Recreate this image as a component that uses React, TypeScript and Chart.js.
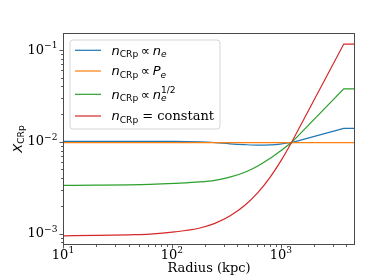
import React, { useEffect, useRef } from "react";
import { Chart, registerables } from "chart.js";

Chart.register(...registerables);

// ---- data ----
const radiusKpc = [10, 20, 40, 63, 106, 181, 248, 340, 468, 615, 793, 1021, 1254, 3785, 4800];
const xcrpNe = [0.0101, 0.0101, 0.0101, 0.0101, 0.0101, 0.01, 0.0098, 0.0095, 0.0093, 0.0092, 0.00925, 0.0095, 0.0098, 0.01396, 0.01396];
const xcrpPe = [0.0098, 0.0098, 0.0098, 0.0098, 0.0098, 0.0098, 0.0098, 0.0098, 0.0098, 0.0098, 0.0098, 0.0098, 0.0098, 0.0098, 0.0098];
const xcrpSqrtNe = [0.00334, 0.00336, 0.00339, 0.00343, 0.00352, 0.00365, 0.0038, 0.00411, 0.00466, 0.00545, 0.00656, 0.00814, 0.0098, 0.0376, 0.0376];
const xcrpConst = [0.000944, 0.000954, 0.000968, 0.000983, 0.00104, 0.00115, 0.00129, 0.00155, 0.00203, 0.00279, 0.00407, 0.00643, 0.0098, 0.116, 0.116];
// radius where all profiles cross; beyond it the profiles are straight power laws then flat
const crossingRadius = 1254;

const seriesValues = [xcrpNe, xcrpPe, xcrpSqrtNe, xcrpConst];
const seriesColors = ["#1f77b4", "#ff7f0e", "#2ca02c", "#d62728"];
const seriesLabels = ["n_CRp ∝ n_e", "n_CRp ∝ P_e", "n_CRp ∝ n_e^1/2", "n_CRp = constant"];

const xRange = [10, 4800];
const yRange = [7.5e-4, 0.153];
const xTickExponents = [1, 2, 3];
const yTickExponents = [-3, -2, -1];
const xAxisTitle = "Radius (kpc)";

// legend labels as math runs
type Run = { t: string; k: string; sup?: string };
const legendRuns: Run[][] = [
  [{ t: "n", k: "it" }, { t: "CRp", k: "sub" }, { t: "\u2009∝\u2009", k: "op" }, { t: "n", k: "it" }, { t: "e", k: "subit" }],
  [{ t: "n", k: "it" }, { t: "CRp", k: "sub" }, { t: "\u2009∝\u2009", k: "op" }, { t: "P", k: "it" }, { t: "e", k: "subit" }],
  [{ t: "n", k: "it" }, { t: "CRp", k: "sub" }, { t: "\u2009∝\u2009", k: "op" }, { t: "n", k: "it" }, { t: "e", k: "subit", sup: "1/2" }],
  [{ t: "n", k: "it" }, { t: "CRp", k: "sub" }, { t: " = constant", k: "rm" }],
];

const runStyles: Record<string, { font: string; dy: number }> = {
  it: { font: "italic 13px 'DejaVu Sans'", dy: 0 },
  sub: { font: "9.1px 'DejaVu Sans'", dy: 2.6 },
  subit: { font: "italic 9.1px 'DejaVu Sans'", dy: 2.6 },
  sup: { font: "9.1px 'DejaVu Sans'", dy: -5.5 },
  op: { font: "13px 'DejaVu Sans'", dy: 0 },
  rm: { font: "13px 'DejaVu Serif'", dy: 0 },
};

function drawRuns(ctx: CanvasRenderingContext2D, runs: Run[], x: number, baseline: number) {
  let cx = x;
  for (const r of runs) {
    const st = runStyles[r.k];
    ctx.font = st.font;
    ctx.fillText(r.t, cx, baseline + st.dy);
    let w = ctx.measureText(r.t).width;
    if (r.sup) {
      ctx.font = runStyles.sup.font;
      ctx.fillText(r.sup, cx, baseline + runStyles.sup.dy);
      w = Math.max(w, ctx.measureText(r.sup).width);
    }
    cx += w;
  }
  return cx - x;
}

const axesPlugin = {
  id: "mplAxes",
  afterDraw(chart: any) {
    const ctx: CanvasRenderingContext2D = chart.ctx;
    const { left, right, top, bottom } = chart.chartArea;
    const xs = chart.scales.x;
    const ys = chart.scales.y;
    ctx.save();
    const axisColor = "#4a4a4a";

    // ticks
    ctx.strokeStyle = axisColor;
    ctx.lineWidth = 0.9;
    ctx.beginPath();
    for (let e = 0; e <= 4; e++) {
      for (let m = 1; m <= 9; m++) {
        const v = m * Math.pow(10, e);
        if (v < xRange[0] || v > xRange[1]) continue;
        const px = Math.round(xs.getPixelForValue(v)) + 0.5;
        const len = m === 1 ? 3.5 : 2;
        ctx.moveTo(px, bottom);
        ctx.lineTo(px, bottom + len);
      }
    }
    for (let e = -4; e <= 0; e++) {
      for (let m = 1; m <= 9; m++) {
        const v = m * Math.pow(10, e);
        if (v < yRange[0] || v > yRange[1]) continue;
        const py = Math.round(ys.getPixelForValue(v)) + 0.5;
        const len = m === 1 ? 3.5 : 2;
        ctx.moveTo(left, py);
        ctx.lineTo(left - len, py);
      }
    }
    ctx.stroke();

    // frame
    ctx.strokeStyle = axisColor;
    ctx.lineWidth = 1;
    ctx.strokeRect(left + 0.5, top + 0.5, right - left - 1, bottom - top - 1);

    ctx.fillStyle = "#000";
    ctx.textBaseline = "alphabetic";
    ctx.textAlign = "left";
    const baseFont = "13px 'DejaVu Serif'";
    const expFont = "9.1px 'DejaVu Serif'";

    // x tick labels
    for (const e of xTickExponents) {
      const px = xs.getPixelForValue(Math.pow(10, e));
      const exp = String(e);
      ctx.font = baseFont;
      const w1 = ctx.measureText("10").width;
      ctx.font = expFont;
      const w2 = ctx.measureText(exp).width;
      const x0 = px - (w1 + w2) / 2;
      ctx.font = baseFont;
      ctx.fillText("10", x0, bottom + 13.5);
      ctx.font = expFont;
      ctx.fillText(exp, x0 + w1, bottom + 8);
    }
    // y tick labels
    for (const e of yTickExponents) {
      const py = ys.getPixelForValue(Math.pow(10, e));
      const exp = "\u2212" + String(-e);
      ctx.font = baseFont;
      const w1 = ctx.measureText("10").width;
      ctx.font = expFont;
      const w2 = ctx.measureText(exp).width;
      const xr = left - 5.5;
      ctx.font = baseFont;
      ctx.fillText("10", xr - w1 - w2, py + 3.7);
      ctx.font = expFont;
      ctx.fillText(exp, xr - w2, py - 1.5);
    }

    // x axis title
    ctx.font = "13px 'DejaVu Serif'";
    ctx.textAlign = "center";
    ctx.fillText(xAxisTitle, (left + right) / 2, bottom + 27.3);

    // y axis title X_CRp (rotated)
    ctx.save();
    ctx.translate(21.5, (top + bottom) / 2);
    ctx.rotate(-Math.PI / 2);
    ctx.textAlign = "left";
    ctx.font = "italic 13px 'DejaVu Sans'";
    const wX = ctx.measureText("X").width;
    ctx.font = "9.1px 'DejaVu Sans'";
    const wS = ctx.measureText("CRp").width;
    const sx = -(wX + wS) / 2;
    ctx.font = "italic 13px 'DejaVu Sans'";
    ctx.fillText("X", sx, 0);
    ctx.font = "9.1px 'DejaVu Sans'";
    ctx.fillText("CRp", sx + wX, 2.6);
    ctx.restore();

    // legend
    const lx = 70, ly = 40, lw = 150, lh = 89, rr = 3;
    ctx.beginPath();
    ctx.moveTo(lx + rr, ly);
    ctx.lineTo(lx + lw - rr, ly);
    ctx.quadraticCurveTo(lx + lw, ly, lx + lw, ly + rr);
    ctx.lineTo(lx + lw, ly + lh - rr);
    ctx.quadraticCurveTo(lx + lw, ly + lh, lx + lw - rr, ly + lh);
    ctx.lineTo(lx + rr, ly + lh);
    ctx.quadraticCurveTo(lx, ly + lh, lx, ly + lh - rr);
    ctx.lineTo(lx, ly + rr);
    ctx.quadraticCurveTo(lx, ly, lx + rr, ly);
    ctx.closePath();
    ctx.fillStyle = "rgba(255,255,255,0.8)";
    ctx.fill();
    ctx.strokeStyle = "rgba(204,204,204,0.8)";
    ctx.lineWidth = 1;
    ctx.stroke();

    const rowY = [50.3, 71, 94.3, 116];
    ctx.textAlign = "left";
    for (let i = 0; i < legendRuns.length; i++) {
      const y = rowY[i];
      ctx.strokeStyle = seriesColors[i];
      ctx.lineWidth = 1.2;
      ctx.beginPath();
      ctx.moveTo(75, y);
      ctx.lineTo(101, y);
      ctx.stroke();
      ctx.fillStyle = "#000";
      drawRuns(ctx, legendRuns[i], 111.5, y + 4.3);
    }
    ctx.restore();
  },
};

export default function App() {
  const ref = useRef<HTMLCanvasElement | null>(null);
  useEffect(() => {
    const canvas = ref.current;
    if (!canvas) return;
    const datasets: any[] = [];
    const n = seriesValues.length;
    seriesValues.forEach((vals, i) => {
      const pts = radiusKpc.map((r, j) => ({ x: r, y: vals[j] }));
      const head = pts.filter((p) => p.x <= crossingRadius);
      const tail = pts.filter((p) => p.x >= crossingRadius);
      const common = {
        borderColor: seriesColors[i],
        backgroundColor: seriesColors[i],
        borderWidth: 1.2,
        pointRadius: 0,
        fill: false,
        order: n - i,
      };
      datasets.push({ ...common, label: seriesLabels[i], data: head, cubicInterpolationMode: "monotone" });
      datasets.push({ ...common, label: seriesLabels[i] + " (outer)", data: tail, tension: 0 });
    });
    const chart = new Chart(canvas, {
      type: "line",
      data: { datasets } as any,
      options: {
        responsive: false,
        animation: false,
        devicePixelRatio: 1,
        layout: { padding: { top: 33, right: 19, left: 0, bottom: 0 } },
        plugins: { legend: { display: false }, tooltip: { enabled: false } },
        scales: {
          x: {
            type: "logarithmic",
            min: xRange[0],
            max: xRange[1],
            bounds: "data",
            ticks: { display: false },
            grid: { display: false },
            border: { display: false },
            afterFit: (s: any) => {
              s.height = 35;
            },
          },
          y: {
            type: "logarithmic",
            min: yRange[0],
            max: yRange[1],
            bounds: "data",
            ticks: { display: false },
            grid: { display: false },
            border: { display: false },
            afterFit: (s: any) => {
              s.width = 63;
            },
          },
        },
      } as any,
      plugins: [axesPlugin],
    });
    return () => chart.destroy();
  }, []);
  return (
    <div style={{ position: "absolute", left: 0, top: 0, width: 374, height: 280, background: "#fff" }}>
      <canvas ref={ref} width={374} height={280} style={{ display: "block" }} />
    </div>
  );
}
